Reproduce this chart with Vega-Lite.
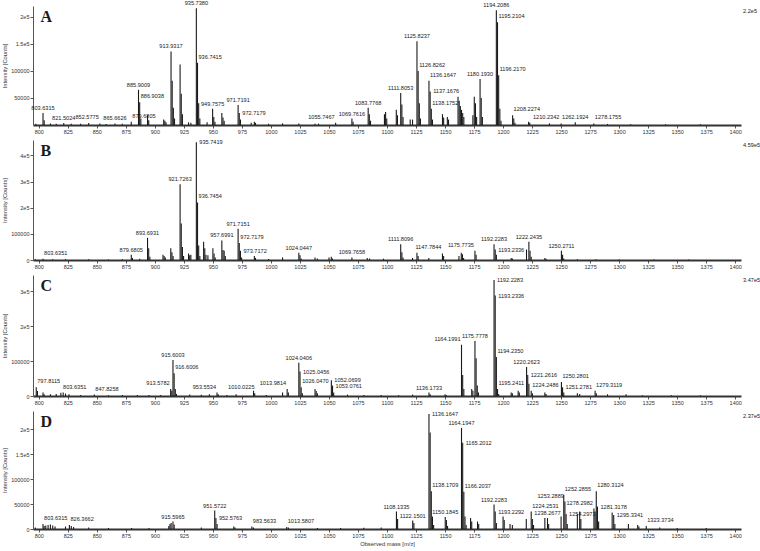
{
"$schema": "https://vega.github.io/schema/vega-lite/v6.json",
"background": "white",
"padding": {"left": 1, "top": 1, "right": 0, "bottom": 2},
"spacing": 15,
"bounds": "flush",
"config": {
  "view": {"stroke": null},
  "font": "Liberation Sans",
  "text": {"fontSize": 5.6, "color": "#1a1a1a", "font": "Liberation Sans"},
  "axis": {"labelFontSize": 5.5, "titleFontSize": 5.8, "titleFontWeight": "normal", "labelColor": "#333", "titleColor": "#333", "domainColor": "#555", "tickColor": "#555", "grid": false, "tickSize": 3, "labelPadding": 1, "titlePadding": 3, "labelFont": "Liberation Sans", "titleFont": "Liberation Sans"}
},
"datasets": {
"A": [
{"mz":797.5,"i":2500},
{"mz":803.63,"i":22000,"t":"803.6315","s":"c"},{"mz":804.63,"i":9000},
{"mz":810,"i":3000},{"mz":815,"i":2500},
{"mz":821.5,"i":3500,"t":"821.5024","s":"c"},
{"mz":828,"i":2500},{"mz":836,"i":2500},{"mz":843,"i":3500},
{"mz":852.58,"i":3000,"t":"852.5775","s":"l"},
{"mz":858,"i":2000},
{"mz":865.66,"i":3000,"t":"865.6626","s":"c"},
{"mz":872,"i":2500},
{"mz":879.68,"i":6000,"t":"879.6805","s":"r"},
{"mz":885.9,"i":65000,"t":"885.9009","s":"c"},
{"mz":886.9,"i":42000,"t":"886.9038","s":"r"},
{"mz":887.9,"i":12000},
{"mz":893.7,"i":18000},{"mz":894.7,"i":9000},
{"mz":907.6,"i":10000},{"mz":908.6,"i":8000},{"mz":909.6,"i":5000},
{"mz":913.93,"i":136000,"t":"913.9317","s":"c"},{"mz":914.93,"i":82000},{"mz":915.93,"i":32000},{"mz":916.93,"i":12000},
{"mz":921.73,"i":112000},{"mz":922.73,"i":58000},{"mz":923.73,"i":20000},
{"mz":929,"i":5000},{"mz":931,"i":4000},
{"mz":935.74,"i":216000,"t":"935.7380","s":"c"},{"mz":936.74,"i":115000,"t":"936.7415","s":"r"},{"mz":937.74,"i":40000},{"mz":938.74,"i":12000},
{"mz":945,"i":5000},
{"mz":949.76,"i":30000,"t":"949.7575","s":"c"},{"mz":950.76,"i":15000},{"mz":951.76,"i":6000},
{"mz":957.7,"i":22000},{"mz":958.7,"i":14000},{"mz":959.7,"i":8000},
{"mz":971.72,"i":37000,"t":"971.7191","s":"c"},{"mz":972.72,"i":22000,"t":"972.7179","s":"m"},{"mz":973.72,"i":10000},
{"mz":983,"i":4000},{"mz":985.7,"i":6000},{"mz":986.7,"i":4000},
{"mz":998,"i":2500},{"mz":1010,"i":3000},{"mz":1024,"i":3000},{"mz":1038,"i":2500},{"mz":1041,"i":2500},
{"mz":1055.75,"i":4000,"t":"1055.7467","s":"l"},
{"mz":1069.76,"i":12000,"t":"1069.7616","s":"c"},{"mz":1070.76,"i":6000},
{"mz":1083.78,"i":32000,"t":"1083.7768","s":"c"},{"mz":1084.78,"i":20000},{"mz":1085.78,"i":8000},
{"mz":1097.8,"i":20000},{"mz":1098.8,"i":24000},{"mz":1099.8,"i":12000},
{"mz":1108,"i":28000},{"mz":1109,"i":18000},
{"mz":1111.81,"i":59000,"t":"1111.8053","s":"c"},{"mz":1112.81,"i":38000},{"mz":1113.81,"i":15000},
{"mz":1120,"i":10000},{"mz":1122,"i":10000},
{"mz":1125.82,"i":155000,"t":"1125.8237","s":"c"},{"mz":1126.83,"i":100000,"t":"1126.8262","s":"r"},{"mz":1127.83,"i":40000},{"mz":1128.83,"i":12000},
{"mz":1136.16,"i":82000,"t":"1136.1647","s":"r"},{"mz":1137.17,"i":62000,"t":"1137.1676","s":"m"},{"mz":1138.18,"i":30000,"t":"1138.1752","s":"r"},{"mz":1139.18,"i":10000},
{"mz":1147.8,"i":20000},{"mz":1148.8,"i":14000},{"mz":1152,"i":15000},{"mz":1153,"i":10000},
{"mz":1161.2,"i":52000},{"mz":1162.2,"i":45000},{"mz":1163.2,"i":35000},{"mz":1164.2,"i":28000},{"mz":1165.2,"i":22000},{"mz":1166.2,"i":15000},
{"mz":1174,"i":18000},{"mz":1175.2,"i":52000},{"mz":1176.2,"i":40000},{"mz":1177.2,"i":15000},
{"mz":1180.19,"i":85000,"t":"1180.1930","s":"c"},{"mz":1181.19,"i":50000},{"mz":1182.19,"i":15000},
{"mz":1194.21,"i":212000,"t":"1194.2086","s":"c"},{"mz":1195.21,"i":190000,"t":"1195.2104","s":"r"},{"mz":1196.22,"i":92000,"t":"1196.2170","s":"r"},{"mz":1197.22,"i":30000},{"mz":1198.22,"i":8000},
{"mz":1208.23,"i":18000,"t":"1208.2274","s":"r"},{"mz":1209.23,"i":12000},{"mz":1210.23,"i":4000,"t":"1210.2342","s":"R"},
{"mz":1222,"i":6000},{"mz":1223,"i":4000},{"mz":1240,"i":3000},{"mz":1250,"i":3000},
{"mz":1262.19,"i":5000,"t":"1262.1924","s":"c"},{"mz":1278.18,"i":3000,"t":"1278.1755","s":"r"},{"mz":1290,"i":2000},{"mz":1310,"i":1500},{"mz":1340,"i":1500},{"mz":1370,"i":1500}
],
"B": [
{"mz":797,"i":3000},{"mz":803.64,"i":5000,"t":"803.6351","s":"r"},{"mz":812,"i":3000},{"mz":823,"i":3000},{"mz":843,"i":2500},{"mz":860,"i":2000},{"mz":872,"i":3000},
{"mz":879.68,"i":20000,"t":"879.6805","s":"c"},{"mz":880.68,"i":8000},{"mz":887,"i":5000},
{"mz":893.69,"i":85000,"t":"893.6931","s":"c"},{"mz":894.69,"i":45000},{"mz":895.69,"i":12000},
{"mz":907,"i":20000},{"mz":908,"i":15000},{"mz":909,"i":10000},
{"mz":913.7,"i":45000},{"mz":914.7,"i":30000},{"mz":915.7,"i":15000},
{"mz":921.73,"i":290000,"t":"921.7263","s":"c"},{"mz":922.73,"i":140000},{"mz":923.73,"i":50000},{"mz":924.73,"i":15000},
{"mz":929,"i":25000},{"mz":930,"i":18000},{"mz":931,"i":20000},
{"mz":935.74,"i":450000,"t":"935.7419","s":"m"},{"mz":936.75,"i":220000,"t":"936.7454","s":"r"},{"mz":937.75,"i":55000},{"mz":938.75,"i":15000},
{"mz":942,"i":70000},{"mz":943,"i":45000},{"mz":944,"i":20000},{"mz":945.7,"i":18000},
{"mz":950,"i":45000},{"mz":951,"i":25000},{"mz":952,"i":10000},
{"mz":957.7,"i":75000,"t":"957.6991","s":"c"},{"mz":958.7,"i":38000},{"mz":959.7,"i":35000},{"mz":960.7,"i":15000},
{"mz":971.72,"i":120000,"t":"971.7151","s":"c"},{"mz":972.72,"i":65000,"t":"972.7179","s":"r"},{"mz":973.72,"i":35000,"t":"973.7172","s":"m"},{"mz":974.72,"i":10000},
{"mz":985.7,"i":15000},{"mz":986.7,"i":8000},{"mz":998,"i":4000},
{"mz":1010,"i":10000},{"mz":1024.04,"i":28000,"t":"1024.0447","s":"c"},{"mz":1025.05,"i":18000},{"mz":1026.05,"i":6000},
{"mz":1038,"i":10000},{"mz":1040,"i":6000},{"mz":1050,"i":10000},{"mz":1052,"i":12000},{"mz":1053,"i":6000},
{"mz":1069.77,"i":10000,"t":"1069.7658","s":"c"},{"mz":1083,"i":8000},{"mz":1085,"i":6000},
{"mz":1097,"i":5000},{"mz":1111.81,"i":60000,"t":"1111.8096","s":"c"},{"mz":1112.81,"i":30000},{"mz":1113.81,"i":10000},
{"mz":1122,"i":8000},{"mz":1125.8,"i":28000},{"mz":1126.8,"i":15000},{"mz":1136,"i":8000},
{"mz":1147.78,"i":25000,"t":"1147.7844","s":"l"},{"mz":1148.78,"i":15000},
{"mz":1162,"i":15000},{"mz":1164,"i":28000},{"mz":1165,"i":22000},{"mz":1166,"i":8000},
{"mz":1175.77,"i":35000,"t":"1175.7735","s":"l"},{"mz":1176.77,"i":20000},
{"mz":1192.23,"i":60000,"t":"1192.2283","s":"c"},{"mz":1193.23,"i":40000,"t":"1193.2336","s":"m"},{"mz":1194.23,"i":20000},
{"mz":1207,"i":8000},{"mz":1208,"i":6000},
{"mz":1220.2,"i":40000},{"mz":1222.24,"i":70000,"t":"1222.2435","s":"c"},{"mz":1223.24,"i":35000},{"mz":1224.24,"i":12000},
{"mz":1236,"i":8000},{"mz":1237,"i":5000},
{"mz":1250.27,"i":35000,"t":"1250.2711","s":"c"},{"mz":1251.27,"i":20000},{"mz":1252.27,"i":6000},
{"mz":1264,"i":3000},{"mz":1280,"i":2500},{"mz":1300,"i":2000},{"mz":1330,"i":2000},{"mz":1360,"i":1500}
],
"C": [
{"mz":797.81,"i":25000,"t":"797.8115","s":"r"},{"mz":798.81,"i":14000},
{"mz":803.64,"i":10000,"t":"803.6351","s":"R"},{"mz":804.6,"i":5000},
{"mz":810,"i":5000},{"mz":815,"i":6000},{"mz":819,"i":9000},{"mz":821,"i":10000},{"mz":823,"i":7000},{"mz":826,"i":5000},
{"mz":836,"i":3000},{"mz":847.83,"i":4000,"t":"847.8258","s":"r"},{"mz":860,"i":2500},{"mz":872,"i":3000},{"mz":885,"i":3000},{"mz":895,"i":3000},{"mz":905,"i":3000},
{"mz":913.58,"i":20000,"t":"913.5782","s":"l"},{"mz":914.6,"i":15000},
{"mz":915.6,"i":103000,"t":"915.6003","s":"c"},{"mz":916.6,"i":65000,"t":"916.6006","s":"r"},{"mz":917.6,"i":20000},{"mz":918.6,"i":6000},
{"mz":930,"i":4000},{"mz":940,"i":3500},{"mz":947,"i":5000},
{"mz":953.55,"i":10000,"t":"953.5534","s":"l"},{"mz":954.6,"i":5000},
{"mz":962,"i":3000},{"mz":970,"i":5000},{"mz":985,"i":15000},{"mz":986,"i":8000},{"mz":996,"i":3000},
{"mz":1010.02,"i":10000,"t":"1010.0225","s":"L"},
{"mz":1013.98,"i":20000,"t":"1013.9814","s":"l"},{"mz":1015,"i":10000},
{"mz":1024.04,"i":95000,"t":"1024.0406","s":"c"},{"mz":1025.05,"i":70000,"t":"1025.0456","s":"m"},{"mz":1026.05,"i":25000,"t":"1026.0470","s":"r"},{"mz":1027.05,"i":8000},
{"mz":1038,"i":20000},{"mz":1039,"i":14000},{"mz":1040,"i":8000},
{"mz":1052.07,"i":45000,"t":"1052.0699","s":"m"},{"mz":1053.08,"i":30000,"t":"1053.0761","s":"m"},{"mz":1054.08,"i":10000},
{"mz":1066,"i":4000},{"mz":1080,"i":3000},{"mz":1095,"i":3000},{"mz":1110,"i":2500},
{"mz":1122,"i":4000},{"mz":1136.17,"i":10000,"t":"1136.1733","s":"c"},{"mz":1137.2,"i":5000},{"mz":1150,"i":5000},{"mz":1151,"i":3000},
{"mz":1164.2,"i":147000,"t":"1164.1991","s":"l"},{"mz":1165.2,"i":60000},{"mz":1166.2,"i":20000},
{"mz":1173,"i":20000},{"mz":1174,"i":15000},
{"mz":1175.78,"i":158000,"t":"1175.7778","s":"c"},{"mz":1176.78,"i":108000},{"mz":1177.78,"i":30000},{"mz":1178.78,"i":10000},
{"mz":1192.23,"i":333000,"t":"1192.2283","s":"m"},{"mz":1193.23,"i":288000,"t":"1193.2336","s":"m"},{"mz":1194.24,"i":112000,"t":"1194.2350","s":"r"},{"mz":1195.24,"i":20000,"t":"1195.2411","s":"r"},{"mz":1196.24,"i":6000},
{"mz":1207,"i":10000},{"mz":1208,"i":8000},{"mz":1213,"i":15000},{"mz":1214,"i":10000},
{"mz":1220.26,"i":83000,"t":"1220.2623","s":"c"},{"mz":1221.26,"i":60000,"t":"1221.2616","s":"m"},{"mz":1222.26,"i":35000},{"mz":1224.25,"i":15000,"t":"1224.2486","s":"r"},{"mz":1225.25,"i":8000},
{"mz":1236,"i":10000},{"mz":1237,"i":6000},
{"mz":1250.28,"i":40000,"t":"1250.2801","s":"r"},{"mz":1251.28,"i":25000,"t":"1251.2781","s":"m"},{"mz":1252.28,"i":10000},
{"mz":1264,"i":8000},{"mz":1266,"i":6000},
{"mz":1279.31,"i":15000,"t":"1279.3119","s":"r"},{"mz":1280.31,"i":8000},
{"mz":1290,"i":5000},{"mz":1306,"i":5000},{"mz":1320,"i":2500},{"mz":1345,"i":2000},{"mz":1370,"i":2000}
],
"D": [
{"mz":797,"i":3000},{"mz":803.63,"i":10000,"t":"803.6315","s":"r"},{"mz":804.6,"i":6000},{"mz":806,"i":7000},{"mz":808,"i":8000},{"mz":810,"i":9000},{"mz":812,"i":7000},{"mz":814,"i":5000},
{"mz":823,"i":5000},{"mz":826.37,"i":8000,"t":"826.3662","s":"r"},{"mz":828,"i":6000},{"mz":830,"i":4000},
{"mz":843,"i":3000},{"mz":860,"i":2000},{"mz":880,"i":2000},{"mz":895,"i":2000},
{"mz":912,"i":6000},{"mz":913,"i":10000},{"mz":914,"i":12000},{"mz":915.6,"i":15000,"t":"915.5965","s":"c"},{"mz":916.6,"i":9000},
{"mz":940,"i":3000},
{"mz":951.57,"i":37000,"t":"951.5722","s":"c"},{"mz":952.58,"i":22000,"t":"952.5763","s":"m"},{"mz":953.58,"i":10000},
{"mz":968,"i":5000},{"mz":969,"i":3000},
{"mz":983.56,"i":5000,"t":"983.5633","s":"r"},{"mz":985,"i":3000},
{"mz":1013.58,"i":4000,"t":"1013.5807","s":"r"},{"mz":1015,"i":3000},
{"mz":1040,"i":2000},{"mz":1060,"i":2000},{"mz":1080,"i":2500},{"mz":1095,"i":3000},
{"mz":1108.13,"i":35000,"t":"1108.1335","s":"c"},{"mz":1109.13,"i":20000},
{"mz":1122.15,"i":17000,"t":"1122.1501","s":"c"},{"mz":1123.15,"i":12000},
{"mz":1136.16,"i":231000,"t":"1136.1647","s":"m"},{"mz":1137.17,"i":194000},{"mz":1138.17,"i":76000,"t":"1138.1709","s":"r"},{"mz":1139.17,"i":25000},{"mz":1140.17,"i":8000},
{"mz":1150.18,"i":24000,"t":"1150.1845","s":"c"},{"mz":1151.18,"i":18000},{"mz":1152.18,"i":6000},
{"mz":1164.19,"i":203000,"t":"1164.1947","s":"c"},{"mz":1165.2,"i":173000,"t":"1165.2012","s":"m"},{"mz":1166.2,"i":75000,"t":"1166.2037","s":"r"},{"mz":1167.2,"i":25000},{"mz":1168.2,"i":8000},
{"mz":1172,"i":22000},{"mz":1173,"i":15000},{"mz":1178,"i":15000},{"mz":1179,"i":10000},
{"mz":1192.23,"i":49000,"t":"1192.2283","s":"c"},{"mz":1193.23,"i":35000,"t":"1193.2292","s":"m"},{"mz":1194.23,"i":12000},
{"mz":1200,"i":25000},{"mz":1201,"i":18000},{"mz":1206,"i":10000},{"mz":1208,"i":8000},
{"mz":1220,"i":20000},{"mz":1224.25,"i":35000,"t":"1224.2531","s":"r"},{"mz":1225.25,"i":20000},{"mz":1226.25,"i":8000},
{"mz":1236,"i":22000},{"mz":1238.27,"i":22000,"t":"1238.2677","s":"c"},{"mz":1239.27,"i":10000},
{"mz":1250,"i":25000},{"mz":1252.29,"i":69000,"t":"1252.2855","s":"r"},{"mz":1253.29,"i":55000,"t":"1253.2889","s":"l"},{"mz":1254.3,"i":30000,"t":"1254.2971","s":"m"},{"mz":1255.3,"i":10000},
{"mz":1264,"i":30000},{"mz":1266,"i":35000},{"mz":1267,"i":20000},
{"mz":1278.3,"i":41000,"t":"1278.2982","s":"l"},{"mz":1279.3,"i":35000},
{"mz":1280.31,"i":76000,"t":"1280.3124","s":"r"},{"mz":1281.32,"i":45000,"t":"1281.3178","s":"m"},{"mz":1282.32,"i":15000},
{"mz":1294,"i":33000},{"mz":1295.33,"i":28000,"t":"1295.3341","s":"m"},{"mz":1296.33,"i":10000},
{"mz":1308,"i":10000},{"mz":1316,"i":8000},{"mz":1317,"i":5000},
{"mz":1323.37,"i":6000,"t":"1323.3734","s":"r"},{"mz":1335,"i":3000},{"mz":1350,"i":2000},{"mz":1375,"i":2000}
],
"metaA": [{"mz": 801.5, "i": 220000, "k": "letter", "lab": "A"}, {"mz": 1405, "i": 220000, "k": "max", "lab": "2.2e5"}],
"metaB": [{"mz": 801.5, "i": 459000, "k": "letter", "lab": "B"}, {"mz": 1405, "i": 459000, "k": "max", "lab": "4.59e5"}],
"metaC": [{"mz": 801.5, "i": 347000, "k": "letter", "lab": "C"}, {"mz": 1405, "i": 347000, "k": "max", "lab": "3.47e5"}],
"metaD": [{"mz": 801.5, "i": 237000, "k": "letter", "lab": "D"}, {"mz": 1405, "i": 237000, "k": "max", "lab": "2.37e5"}]
},
"vconcat": [
{
 "width": 708, "height": 119,
 "data": {"name": "A"},
 "encoding": {
  "x": {"field": "mz", "type": "quantitative", "scale": {"domain": [795, 1405], "nice": false, "zero": false}, "axis": {"values": [800,825,850,875,900,925,950,975,1000,1025,1050,1075,1100,1125,1150,1175,1200,1225,1250,1275,1300,1325,1350,1375,1400], "format": "d", "title": null, "domainWidth": 2, "domainColor": "#333", "labelFlush": false}},
  "y": {"field": "i", "type": "quantitative", "scale": {"domain": [0, 220000], "nice": false}, "axis": {"values": [50000,100000,150000,200000], "title": "Intensity [Counts]", "labelExpr": "datum.value >= 150000 ? replace(format(datum.value, '.2~e'), '+', '') : format(datum.value, 'd')"}}
 },
 "layer": [
  {"mark": {"type": "rule", "color": "#1a1a1a", "strokeWidth": 1.1}, "encoding": {"y2": {"datum": 0}}},
  {"transform": [{"filter": "datum.s === 'c'"}], "mark": {"type": "text", "align": "center", "baseline": "bottom", "dy": -2}, "encoding": {"text": {"field": "t"}}},
  {"transform": [{"filter": "datum.s === 'r'"}], "mark": {"type": "text", "align": "left", "baseline": "bottom", "dx": 1, "dy": -3}, "encoding": {"text": {"field": "t"}}},
  {"transform": [{"filter": "datum.s === 'm'"}], "mark": {"type": "text", "align": "left", "baseline": "middle", "dx": 3}, "encoding": {"text": {"field": "t"}}},
  {"transform": [{"filter": "datum.s === 'l'"}], "mark": {"type": "text", "align": "right", "baseline": "bottom", "dx": -1, "dy": -3}, "encoding": {"text": {"field": "t"}}},
  {"transform": [{"filter": "datum.s === 'R'"}], "mark": {"type": "text", "align": "left", "baseline": "bottom", "dx": 18, "dy": -3}, "encoding": {"text": {"field": "t"}}},
  {"data": {"name": "metaA"}, "transform": [{"filter": "datum.k === 'letter'"}], "mark": {"type": "text", "font": "Liberation Serif", "fontWeight": "bold", "fontSize": 16, "align": "left", "baseline": "top", "dy": 3}, "encoding": {"text": {"field": "lab"}}},
  {"data": {"name": "metaA"}, "transform": [{"filter": "datum.k === 'max'"}], "mark": {"type": "text", "align": "left", "baseline": "top", "dx": 2, "dy": 3}, "encoding": {"text": {"field": "lab"}}}
 ]
},
{
 "width": 708, "height": 120,
 "data": {"name": "B"},
 "encoding": {
  "x": {"field": "mz", "type": "quantitative", "scale": {"domain": [795, 1405], "nice": false, "zero": false}, "axis": {"values": [800,825,850,875,900,925,950,975,1000,1025,1050,1075,1100,1125,1150,1175,1200,1225,1250,1275,1300,1325,1350,1375,1400], "format": "d", "title": null, "domainWidth": 2, "domainColor": "#333", "labelFlush": false}},
  "y": {"field": "i", "type": "quantitative", "scale": {"domain": [0, 459000], "nice": false}, "axis": {"values": [0,100000,200000,300000,400000], "title": "Intensity [Counts]", "labelExpr": "datum.value >= 150000 ? replace(format(datum.value, '.2~e'), '+', '') : format(datum.value, 'd')"}}
 },
 "layer": [
  {"mark": {"type": "rule", "color": "#1a1a1a", "strokeWidth": 1.1}, "encoding": {"y2": {"datum": 0}}},
  {"transform": [{"filter": "datum.s === 'c'"}], "mark": {"type": "text", "align": "center", "baseline": "bottom", "dy": -2}, "encoding": {"text": {"field": "t"}}},
  {"transform": [{"filter": "datum.s === 'r'"}], "mark": {"type": "text", "align": "left", "baseline": "bottom", "dx": 1, "dy": -3}, "encoding": {"text": {"field": "t"}}},
  {"transform": [{"filter": "datum.s === 'm'"}], "mark": {"type": "text", "align": "left", "baseline": "middle", "dx": 3}, "encoding": {"text": {"field": "t"}}},
  {"transform": [{"filter": "datum.s === 'l'"}], "mark": {"type": "text", "align": "right", "baseline": "bottom", "dx": -1, "dy": -3}, "encoding": {"text": {"field": "t"}}},
  {"data": {"name": "metaB"}, "transform": [{"filter": "datum.k === 'letter'"}], "mark": {"type": "text", "font": "Liberation Serif", "fontWeight": "bold", "fontSize": 16, "align": "left", "baseline": "top", "dy": 3}, "encoding": {"text": {"field": "lab"}}},
  {"data": {"name": "metaB"}, "transform": [{"filter": "datum.k === 'max'"}], "mark": {"type": "text", "align": "left", "baseline": "top", "dx": 2, "dy": 3}, "encoding": {"text": {"field": "lab"}}}
 ]
},
{
 "width": 708, "height": 121,
 "data": {"name": "C"},
 "encoding": {
  "x": {"field": "mz", "type": "quantitative", "scale": {"domain": [795, 1405], "nice": false, "zero": false}, "axis": {"values": [800,825,850,875,900,925,950,975,1000,1025,1050,1075,1100,1125,1150,1175,1200,1225,1250,1275,1300,1325,1350,1375,1400], "format": "d", "title": null, "domainWidth": 2, "domainColor": "#333", "labelFlush": false}},
  "y": {"field": "i", "type": "quantitative", "scale": {"domain": [0, 347000], "nice": false}, "axis": {"values": [0,100000,200000,300000], "title": "Intensity [Counts]", "labelExpr": "datum.value >= 150000 ? replace(format(datum.value, '.2~e'), '+', '') : format(datum.value, 'd')"}}
 },
 "layer": [
  {"mark": {"type": "rule", "color": "#1a1a1a", "strokeWidth": 1.1}, "encoding": {"y2": {"datum": 0}}},
  {"transform": [{"filter": "datum.s === 'c'"}], "mark": {"type": "text", "align": "center", "baseline": "bottom", "dy": -2}, "encoding": {"text": {"field": "t"}}},
  {"transform": [{"filter": "datum.s === 'r'"}], "mark": {"type": "text", "align": "left", "baseline": "bottom", "dx": 1, "dy": -3}, "encoding": {"text": {"field": "t"}}},
  {"transform": [{"filter": "datum.s === 'm'"}], "mark": {"type": "text", "align": "left", "baseline": "middle", "dx": 3}, "encoding": {"text": {"field": "t"}}},
  {"transform": [{"filter": "datum.s === 'l'"}], "mark": {"type": "text", "align": "right", "baseline": "bottom", "dx": -1, "dy": -3}, "encoding": {"text": {"field": "t"}}},
  {"transform": [{"filter": "datum.s === 'R'"}], "mark": {"type": "text", "align": "left", "baseline": "bottom", "dx": 20, "dy": -3}, "encoding": {"text": {"field": "t"}}},
  {"transform": [{"filter": "datum.s === 'L'"}], "mark": {"type": "text", "align": "right", "baseline": "bottom", "dx": -28, "dy": -3}, "encoding": {"text": {"field": "t"}}},
  {"data": {"name": "metaC"}, "transform": [{"filter": "datum.k === 'letter'"}], "mark": {"type": "text", "font": "Liberation Serif", "fontWeight": "bold", "fontSize": 16, "align": "left", "baseline": "top", "dy": 3}, "encoding": {"text": {"field": "lab"}}},
  {"data": {"name": "metaC"}, "transform": [{"filter": "datum.k === 'max'"}], "mark": {"type": "text", "align": "left", "baseline": "top", "dx": 2, "dy": 3}, "encoding": {"text": {"field": "lab"}}}
 ]
},
{
 "width": 708, "height": 118,
 "data": {"name": "D"},
 "encoding": {
  "x": {"field": "mz", "type": "quantitative", "scale": {"domain": [795, 1405], "nice": false, "zero": false}, "axis": {"values": [800,825,850,875,900,925,950,975,1000,1025,1050,1075,1100,1125,1150,1175,1200,1225,1250,1275,1300,1325,1350,1375,1400], "format": "d", "title": "Observed mass [m/z]", "titlePadding": 2, "domainWidth": 2, "domainColor": "#333", "labelFlush": false}},
  "y": {"field": "i", "type": "quantitative", "scale": {"domain": [0, 237000], "nice": false}, "axis": {"values": [0,50000,100000,150000,200000], "title": "Intensity [Counts]", "labelExpr": "datum.value >= 150000 ? replace(format(datum.value, '.2~e'), '+', '') : format(datum.value, 'd')"}}
 },
 "layer": [
  {"mark": {"type": "rule", "color": "#1a1a1a", "strokeWidth": 1.1}, "encoding": {"y2": {"datum": 0}}},
  {"transform": [{"filter": "datum.s === 'c'"}], "mark": {"type": "text", "align": "center", "baseline": "bottom", "dy": -2}, "encoding": {"text": {"field": "t"}}},
  {"transform": [{"filter": "datum.s === 'r'"}], "mark": {"type": "text", "align": "left", "baseline": "bottom", "dx": 1, "dy": -3}, "encoding": {"text": {"field": "t"}}},
  {"transform": [{"filter": "datum.s === 'm'"}], "mark": {"type": "text", "align": "left", "baseline": "middle", "dx": 3}, "encoding": {"text": {"field": "t"}}},
  {"transform": [{"filter": "datum.s === 'l'"}], "mark": {"type": "text", "align": "right", "baseline": "bottom", "dx": -1, "dy": -3}, "encoding": {"text": {"field": "t"}}},
  {"data": {"name": "metaD"}, "transform": [{"filter": "datum.k === 'letter'"}], "mark": {"type": "text", "font": "Liberation Serif", "fontWeight": "bold", "fontSize": 16, "align": "left", "baseline": "top", "dy": 3}, "encoding": {"text": {"field": "lab"}}},
  {"data": {"name": "metaD"}, "transform": [{"filter": "datum.k === 'max'"}], "mark": {"type": "text", "align": "left", "baseline": "top", "dx": 2, "dy": 3}, "encoding": {"text": {"field": "lab"}}}
 ]
}
]
}
